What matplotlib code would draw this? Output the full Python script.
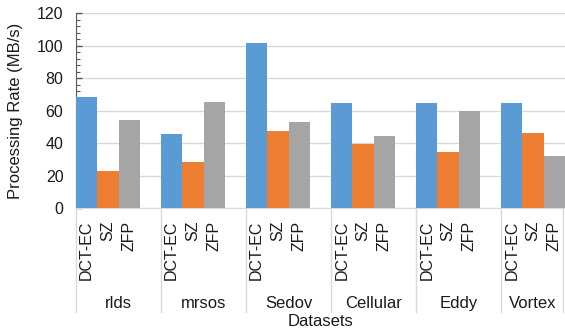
import matplotlib.pyplot as plt
import matplotlib.transforms as mtransforms
from matplotlib.ticker import MultipleLocator

plt.rcParams['font.family'] = ['Liberation Sans', 'DejaVu Sans']

# processing rate of each compressor per dataset (MB/s)
datasets = ['rlds', 'mrsos', 'Sedov', 'Cellular', 'Eddy', 'Vortex']
methods = ['DCT-EC', 'SZ', 'ZFP']
dct_ec = [68.3, 45.7, 101.5, 64.8, 64.8, 64.8]
sz = [23.0, 28.5, 47.6, 39.6, 34.7, 46.4]
zfp = [54.3, 65.4, 53.1, 44.5, 59.9, 32.2]
colors = ['#5B9BD5', '#ED7D31', '#A5A5A5']

fig = plt.figure(figsize=(5.65, 3.34), dpi=100)
ax = fig.add_axes([0.1345, 0.3763, 0.8655, 0.5838])

bw = 0.25
xmax = 5.75
ticks, ticklabels = [], []
for j, vals in enumerate([dct_ec, sz, zfp]):
    xs = [i + bw * j + bw / 2 for i in range(len(datasets))]
    ax.bar(xs, vals, width=bw, color=colors[j], linewidth=0, zorder=3)
    ticks += xs
    ticklabels += [methods[j]] * len(datasets)

ax.set_xlim(0, xmax)
ax.set_ylim(0, 120)
ax.yaxis.set_major_locator(MultipleLocator(20))
ax.yaxis.set_minor_locator(MultipleLocator(4))
ax.grid(axis='y', color='#d9d9d9', linewidth=1, zorder=0)

ax.set_xticks(ticks)
ax.set_xticklabels(ticklabels, rotation=90, fontsize=11.5, color='#1a1a1a')
ax.tick_params(axis='x', length=0, pad=9)
ax.tick_params(axis='y', which='major', direction='in', length=4, width=1,
               color='#595959', labelsize=11.5, labelcolor='#1a1a1a', pad=9)
ax.tick_params(axis='y', which='minor', direction='in', length=3, width=0.8, color='#595959')

for s in ['top', 'right']:
    ax.spines[s].set_visible(False)
ax.spines['left'].set_color('#595959')
ax.spines['bottom'].set_color('#d9d9d9')

# second level of category axis: dataset names and separators
trans = mtransforms.blended_transform_factory(ax.transData, ax.transAxes)
edges = list(range(len(datasets))) + [xmax - 0.02]
for x in edges:
    ax.plot([x, x], [0, -0.532], transform=trans, color='#d9d9d9', lw=1, clip_on=False)
for i, name in enumerate(datasets):
    xc = (edges[i] + min(edges[i + 1], i + 1)) / 2
    ax.text(xc, -0.486, name, transform=trans, ha='center', va='center',
            fontsize=12, color='#1a1a1a')

ax.set_ylabel('Processing Rate (MB/s)', fontsize=12, color='#1a1a1a')
ax.yaxis.set_label_coords(-0.108, 0.5)
ax.set_xlabel('Datasets', fontsize=12, color='#1a1a1a')
ax.xaxis.set_label_coords(0.5, -0.583)
ax.xaxis.label.set_va('center')

fig.savefig('out.png', dpi=100)
